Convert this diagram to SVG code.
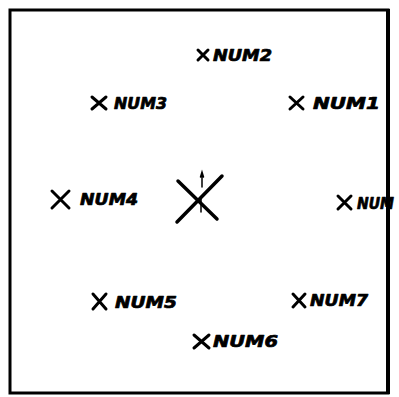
<svg xmlns="http://www.w3.org/2000/svg" width="399" height="397" viewBox="0 0 399 397">
<style>
.frame{fill:none;stroke:#000;stroke-width:3}
.mk{fill:none;stroke:#000;stroke-width:3;stroke-linecap:round}
.big{fill:none;stroke:#000;stroke-width:3.5;stroke-linecap:round}
.tick{fill:none;stroke:#000;stroke-width:1.5;stroke-linecap:round}
.lb{font-family:"DejaVu Sans","Liberation Sans",Arial,sans-serif;font-weight:bold;font-style:italic;font-size:15px;fill:#000;stroke:#000;stroke-width:0.7;stroke-linejoin:round}
</style>
<rect width="399" height="397" fill="#fff"/>
<rect class="frame" x="10" y="10" width="378" height="383"/>
<path d="M388 9 L388 394" stroke="#000" stroke-width="4" fill="none"/>
<g id="center">
<path class="big" d="M178 181 L217 219"/>
<path class="big" d="M222 176 L177 222"/>
<path class="tick" d="M202 172 L202 187 M200.5 177 L202 172 L203.5 177 M201 198 L201 212"/>
</g>
<g id="num2">
<path class="mk" d="M198 50 L208 60 M208 50 L198 60"/>
<text class="lb" x="213" y="61" textLength="59" lengthAdjust="spacingAndGlyphs">NUM2</text>
</g>
<g id="num3">
<path class="mk" d="M92 97 L106 109 M106 97 L92 109"/>
<text class="lb" x="114" y="109" textLength="53" lengthAdjust="spacingAndGlyphs">NUM3</text>
</g>
<g id="num1">
<path class="mk" d="M290 97 L303 109 M303 97 L290 109"/>
<text class="lb" x="313" y="109" textLength="67" lengthAdjust="spacingAndGlyphs">NUM1</text>
</g>
<g id="num4">
<path class="mk" d="M52 191 L69 208 M69 191 L52 208"/>
<text class="lb" x="80" y="205" textLength="58" lengthAdjust="spacingAndGlyphs">NUM4</text>
</g>
<g id="num8">
<path class="mk" d="M338 196 L351 209 M351 196 L338 209"/>
<text class="lb" x="357" y="209" textLength="37" lengthAdjust="spacingAndGlyphs">NUM</text>
</g>
<g id="num5">
<path class="mk" d="M93 294 L106 309 M106 294 L93 309"/>
<text class="lb" x="115" y="308" textLength="62" lengthAdjust="spacingAndGlyphs">NUM5</text>
</g>
<g id="num7">
<path class="mk" d="M293 294 L305 307 M305 294 L293 307"/>
<text class="lb" x="310" y="306" textLength="58" lengthAdjust="spacingAndGlyphs">NUM7</text>
</g>
<g id="num6">
<path class="mk" d="M194 335 L209 348 M209 335 L194 348"/>
<text class="lb" x="213" y="347" textLength="65" lengthAdjust="spacingAndGlyphs">NUM6</text>
</g>
<rect x="386" y="190" width="4" height="25" fill="#000"/>
</svg>
